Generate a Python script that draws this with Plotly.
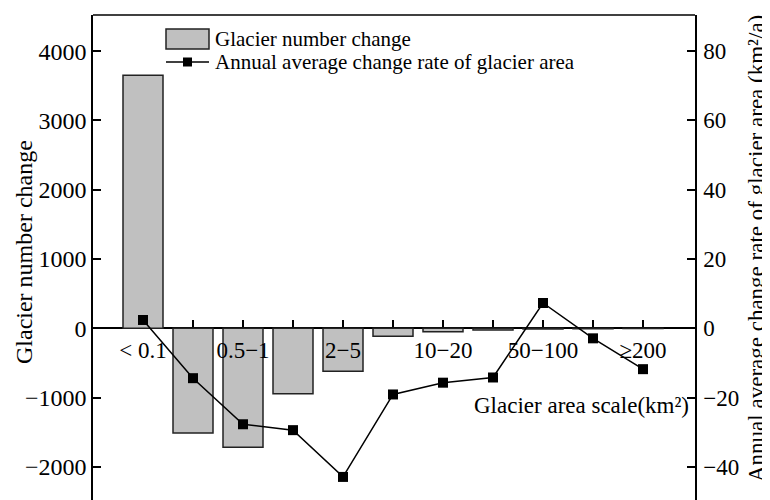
import plotly.graph_objects as go

categories = ["< 0.1", "0.1\u22120.5", "0.5\u22121", "1\u22122", "2\u22125", "5\u221210",
              "10\u221220", "20\u221250", "50\u2212100", "100\u2212200", "\u2265200"]
tick_labels = ["< 0.1", "", "0.5\u22121", "", "2\u22125", "", "10\u221220", "", "50\u2212100", "", "\u2265200"]
number_change = [3650, -1510, -1715, -945, -620, -115, -50, -25, -10, -6, -4]
area_rate = [2.4, -14.4, -27.7, -29.4, -42.9, -19.1, -15.7, -14.2, 7.3, -2.9, -11.8]

FONT = "Liberation Serif"
# the page body adds an 8px offset, so the figure is 8px smaller than the window
OFF = 8
W, H = 770 - OFF, 500 - OFF
L, R, T, B = 93 - OFF, 75, 15 - OFF, 0
PW, PH = W - L - R, H - T - B

def px_x(p):  # screen pixel -> paper fraction
    return (p - OFF - L) / PW

def px_y(p):
    return (H - B - (p - OFF)) / PH

idx = list(range(len(categories)))

fig = go.Figure()
fig.add_trace(go.Bar(
    x=idx, y=number_change, width=0.8, name="Glacier number change",
    marker=dict(color="#c0c0c0", line=dict(color="#222222", width=1.5)),
    showlegend=False, hovertext=categories,
))
fig.add_trace(go.Scatter(
    x=idx, y=area_rate, xaxis="x2", yaxis="y2", mode="lines+markers",
    name="Annual average change rate of glacier area",
    line=dict(color="black", width=1.5),
    marker=dict(symbol="square", size=10, color="black"),
    showlegend=False, hovertext=categories,
))

y1_lo, y1_hi = -2478, 4521
y2_lo, y2_hi = y1_lo / 50, y1_hi / 50
zero_pos = (0 - y1_lo) / (y1_hi - y1_lo)
x_range = [-1, 11.04]

fig.update_layout(
    width=W, height=H,
    margin=dict(l=L, r=R, t=T, b=B, pad=0, autoexpand=False),
    paper_bgcolor="white", plot_bgcolor="white",
    font=dict(family=FONT, size=23, color="black"),
    xaxis=dict(
        range=x_range, tickvals=idx[1:], showticklabels=False,
        anchor="free", position=zero_pos, side="bottom",
        showline=True, linecolor="black", linewidth=1.5,
        ticks="inside", ticklen=8, tickwidth=1.5, tickcolor="black",
        showgrid=False, zeroline=False, layer="below traces", automargin=False,
    ),
    xaxis2=dict(
        range=x_range, overlaying="x", anchor="free", position=zero_pos, side="bottom",
        tickvals=idx, ticktext=tick_labels, ticks="", showline=False,
        showgrid=False, zeroline=False, layer="above traces", automargin=False,
        tickfont=dict(family=FONT, size=23), ticklabelstandoff=6,
    ),
    yaxis=dict(
        range=[y1_lo, y1_hi], tickvals=[-2000, -1000, 0, 1000, 2000, 3000, 4000],
        ticktext=["\u22122000", "\u22121000", "0", "1000", "2000", "3000", "4000"],
        showline=True, linecolor="black", linewidth=1.5,
        ticks="inside", ticklen=8, tickwidth=1.5, tickcolor="black",
        showgrid=False, zeroline=False, automargin=False,
        tickfont=dict(family=FONT, size=24),
    ),
    yaxis2=dict(
        range=[y2_lo, y2_hi], overlaying="y", side="right", anchor="x2",
        tickvals=[-40, -20, 0, 20, 40, 60, 80],
        ticktext=["\u221240", "\u221220", "0", "20", "40", "60", "80"],
        showline=True, linecolor="black", linewidth=1.5,
        ticks="inside", ticklen=8, tickwidth=1.5, tickcolor="black",
        showgrid=False, zeroline=False, automargin=False,
        tickfont=dict(family=FONT, size=23), ticklabelstandoff=2,
    ),
)

# top frame line
fig.add_shape(type="line", xref="paper", yref="paper", x0=0, x1=1, y0=1, y1=1,
              line=dict(color="black", width=1.5))

# manual legend
fig.add_shape(type="rect", xref="paper", yref="paper",
              x0=px_x(166), x1=px_x(209), y0=px_y(49), y1=px_y(29),
              fillcolor="#c0c0c0", line=dict(color="#222222", width=1.5))
fig.add_shape(type="line", xref="paper", yref="paper",
              x0=px_x(166), x1=px_x(209), y0=px_y(62), y1=px_y(62),
              line=dict(color="black", width=1.5))
fig.add_shape(type="rect", xref="paper", yref="paper",
              x0=px_x(183), x1=px_x(192), y0=px_y(66.5), y1=px_y(57.5),
              fillcolor="black", line=dict(color="black", width=0))
fig.add_annotation(text="Glacier number change", xref="paper", yref="paper",
                   x=px_x(213), y=px_y(39), xanchor="left", yanchor="middle",
                   showarrow=False, font=dict(family=FONT, size=21))
fig.add_annotation(text="Annual average change rate of glacier area", xref="paper", yref="paper",
                   x=px_x(213), y=px_y(62), xanchor="left", yanchor="middle",
                   showarrow=False, font=dict(family=FONT, size=21))

# axis titles
fig.add_annotation(text="Glacier number change", xref="paper", yref="paper",
                   x=px_x(24), y=px_y(252), xanchor="center", yanchor="middle",
                   textangle=-90, showarrow=False, font=dict(family=FONT, size=24))
fig.add_annotation(text="Annual average change rate of glacier area (km\u00b2/a)", xref="paper", yref="paper",
                   x=px_x(757), y=px_y(248), xanchor="center", yanchor="middle",
                   textangle=-90, showarrow=False, font=dict(family=FONT, size=23))
fig.add_annotation(text="Glacier area scale(km\u00b2)", xref="paper", yref="paper",
                   x=px_x(691), y=px_y(405), xanchor="right", yanchor="middle",
                   showarrow=False, font=dict(family=FONT, size=23))

fig.write_html("out.html")
